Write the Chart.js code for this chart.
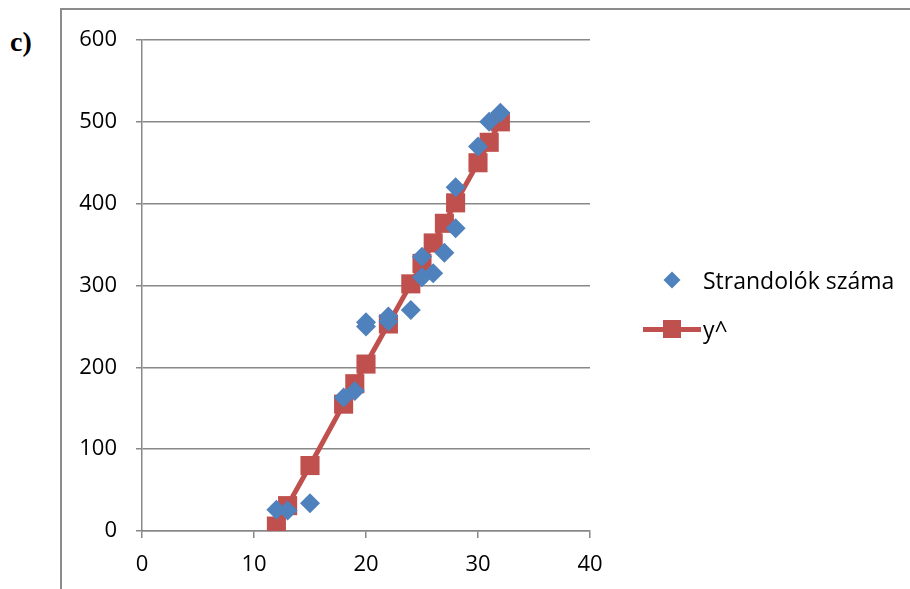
<!DOCTYPE html>
<html>
<head>
<meta charset="utf-8">
<script src="https://cdn.jsdelivr.net/npm/chart.js@4/dist/chart.umd.min.js"></script>
<style>
  html, body { margin: 0; padding: 0; background: #fff; }
  #wrap { position: relative; width: 910px; height: 589px; overflow: hidden; }
  #frame {
    position: absolute; left: 60px; top: 8px; width: 860px; height: 600px;
    border-top: 2px solid #8c8c8c; border-left: 2px solid #8c8c8c;
  }
  #label {
    position: absolute; left: 10px; top: 26px;
    font: bold 28px "Liberation Serif", "DejaVu Serif", serif; color: #000;
  }
  #chart { position: absolute; left: 0; top: 0; }
  .legend-item {
    position: absolute; left: 640px; height: 30px;
    font: 23px "Open Sans", sans-serif; color: #000; line-height: 30px;
  }
  .legend-item .txt { position: absolute; left: 63px; top: 0; white-space: nowrap; }
  .diamond {
    position: absolute; left: 26px; top: 9px; width: 12px; height: 12px;
    background: #4f81bd; transform: rotate(45deg);
  }
  .redline {
    position: absolute; left: 3px; top: 13px; width: 58px; height: 5px; background: #c0504d;
  }
  .redsq {
    position: absolute; left: 23px; top: 6px; width: 18px; height: 18px; background: #c0504d;
  }
</style>
</head>
<body>
<div id="wrap">
  <div id="frame"></div>
  <div id="label">c)</div>
  <canvas id="chart" width="910" height="589"></canvas>
  <div class="legend-item" style="top:265px"><div class="diamond"></div><span class="txt">Strandolók száma</span></div>
  <div class="legend-item" style="top:314px"><div class="redline"></div><div class="redsq"></div><span class="txt">y^</span></div>
</div>
<script>
// observed points (temperature, number of beach visitors)
const obsX = [12, 13, 15, 18, 19, 20, 20, 22, 22, 24, 25, 25, 26, 27, 28, 28, 30, 31, 32];
const obsY = [26, 25, 34, 163, 171, 255, 250, 262, 256, 270, 335, 310, 315, 340, 420, 370, 470, 500, 511];

// fitted values y^
const fitX = [12, 13, 15, 18, 19, 20, 22, 24, 25, 26, 27, 28, 30, 31, 32];
const fitY = [6, 31, 80, 155, 180, 204, 253, 302, 327, 352, 376, 401, 450, 475, 500];

const seriesNames = ["Strandolók száma", "y^"];
const xTicks = [0, 10, 20, 30, 40];
const yTicks = [0, 100, 200, 300, 400, 500, 600];

const gridColor = "#888888";
const tickFont = { family: "Open Sans", size: 22 };

function toPoints(xs, ys) {
  return xs.map((x, i) => ({ x: x, y: ys[i] }));
}

new Chart(document.getElementById("chart").getContext("2d"), {
  type: "scatter",
  data: {
    datasets: [
      {
        label: seriesNames[0],
        data: toPoints(obsX, obsY),
        pointStyle: "rectRot",
        pointRadius: 10,
        backgroundColor: "#4f81bd",
        borderColor: "#4f81bd",
        borderWidth: 0,
        showLine: false,
      },
      {
        label: seriesNames[1],
        data: toPoints(fitX, fitY),
        pointStyle: "rect",
        pointRadius: 13.5,
        backgroundColor: "#c0504d",
        borderColor: "#c0504d",
        pointBorderWidth: 0,
        borderWidth: 5,
        showLine: true,
        tension: 0,
      },
    ],
  },
  options: {
    responsive: false,
    animation: false,
    events: [],
    layout: { padding: { left: 0, top: 40, right: 320, bottom: 0 } },
    plugins: { legend: { display: false }, tooltip: { enabled: false } },
    scales: {
      x: {
        type: "linear",
        min: xTicks[0],
        max: xTicks[xTicks.length - 1],
        afterBuildTicks: (scale) => { scale.ticks = xTicks.map((v) => ({ value: v })); },
        afterFit: (scale) => { scale.height = 58; },
        border: { display: true, color: gridColor, width: 1.5 },
        grid: { drawOnChartArea: false, drawTicks: true, tickLength: 7, color: gridColor, lineWidth: 1.5 },
        ticks: { color: "#000", font: tickFont, padding: 14, maxRotation: 0 },
      },
      y: {
        type: "linear",
        min: yTicks[0],
        max: yTicks[yTicks.length - 1],
        afterBuildTicks: (scale) => { scale.ticks = yTicks.map((v) => ({ value: v })); },
        afterFit: (scale) => { scale.width = 142; },
        border: { display: true, color: gridColor, width: 1.5 },
        grid: { drawOnChartArea: true, drawTicks: true, tickLength: 6, color: gridColor, lineWidth: 1.5 },
        ticks: { color: "#000", font: tickFont, padding: 19 },
      },
    },
  },
});
</script>
</body>
</html>
